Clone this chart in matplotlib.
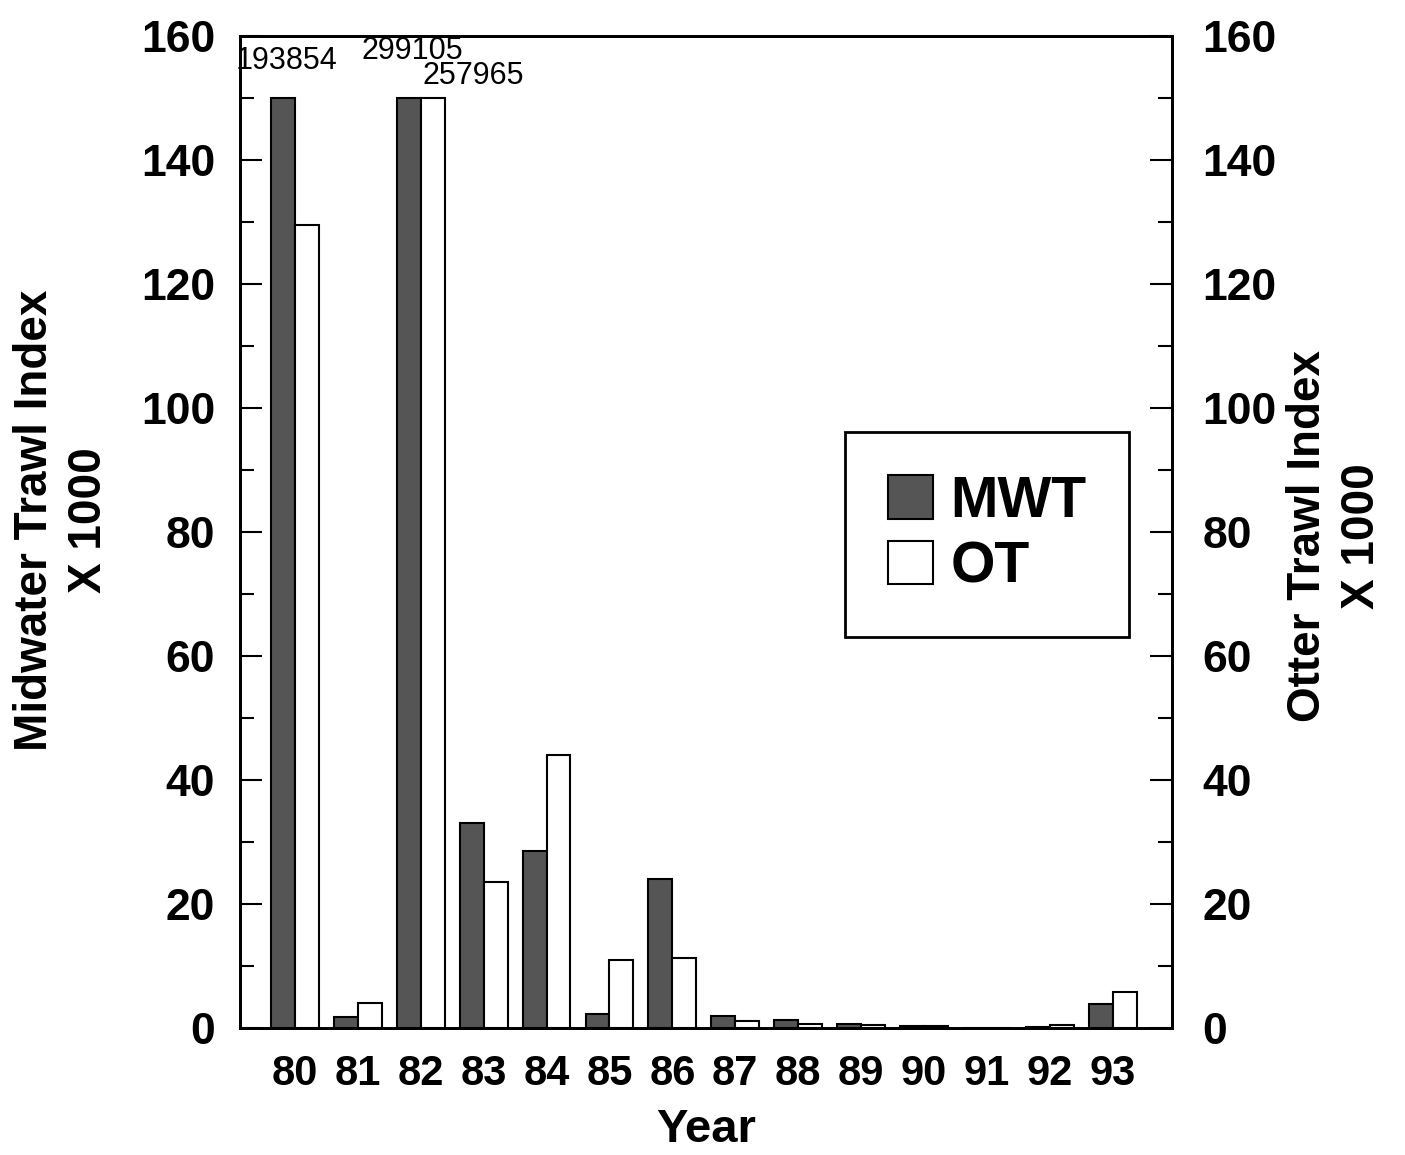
import numpy as np
import matplotlib.pyplot as plt
from matplotlib.ticker import MultipleLocator

plt.rcParams['font.family'] = ['Liberation Sans', 'DejaVu Sans']

# ---------- data ----------
years = ['80', '81', '82', '83', '84', '85', '86', '87', '88', '89', '90', '91', '92', '93']
mwt = [193.854, 1.8, 299.105, 33.0, 28.5, 2.3, 24.0, 2.0, 1.3, 0.6, 0.3, 0.05, 0.1, 3.8]
ot = [129.5, 4.0, 257.965, 23.5, 44.0, 11.0, 11.3, 1.2, 0.6, 0.4, 0.3, 0.0, 0.5, 5.8]
y_cap = 150.0

# ---------- plot ----------
fig = plt.figure(figsize=(14.05, 11.55), dpi=100)
ax = fig.add_axes([0.171, 0.110, 0.663, 0.859])

x = np.arange(len(years))
w = 0.38
mwt_shown = np.minimum(mwt, y_cap)
ot_shown = np.minimum(ot, y_cap)

b1 = ax.bar(x - w / 2, mwt_shown, w, color='#555555', edgecolor='black', lw=1.5, label='MWT')
b2 = ax.bar(x + w / 2, ot_shown, w, color='white', edgecolor='black', lw=1.5, label='OT')

# values of the bars that run off the scale
for i in range(len(years)):
    both = mwt[i] > y_cap and ot[i] > y_cap
    if mwt[i] > y_cap:
        ax.text(x[i] - w / 2 + 0.05, y_cap + (7.5 if both else 5.9), f'{mwt[i] * 1000:.0f}',
                ha='center', va='center', fontsize=22)
    if ot[i] > y_cap:
        ax.text(x[i] + 0.03, y_cap + 3.5, f'{ot[i] * 1000:.0f}',
                ha='left', va='center', fontsize=22)

ax.set_xlim(-0.87, 13.94)
ax.set_ylim(0, 160)
ax.set_xticks(x)
ax.set_xticklabels(years)
ax.tick_params(axis='x', length=0, pad=19, labelsize=30)
for t in ax.get_xticklabels():
    t.set_fontweight('bold')

ax.yaxis.set_major_locator(MultipleLocator(20))
ax.yaxis.set_minor_locator(MultipleLocator(10))
ax.tick_params(axis='y', which='major', direction='in', length=16, width=1.5,
               pad=18, labelsize=32)
ax.tick_params(axis='y', which='minor', direction='in', length=10, width=1.5)
for t in ax.get_yticklabels():
    t.set_fontweight('bold')

ax2 = ax.twinx()
ax2.set_ylim(0, 160)
ax2.yaxis.set_major_locator(MultipleLocator(20))
ax2.yaxis.set_minor_locator(MultipleLocator(10))
ax2.tick_params(axis='y', which='major', direction='in', length=16, width=1.5,
                pad=22, labelsize=32)
ax2.tick_params(axis='y', which='minor', direction='in', length=10, width=1.5)
for t in ax2.get_yticklabels():
    t.set_fontweight('bold')

for a in (ax, ax2):
    for s in a.spines.values():
        s.set_linewidth(2)

ax.set_xlabel('Year', fontsize=34, fontweight='bold', labelpad=10)
fig.text(62 / 1405, 1 - 520 / 1155, 'Midwater Trawl Index\nX 1000', rotation=90,
         ha='center', va='center', multialignment='center', fontsize=33,
         fontweight='bold', linespacing=1.3)
fig.text(1335 / 1405, 1 - 536 / 1155, 'Otter Trawl Index\nX 1000', rotation=90,
         ha='center', va='center', multialignment='center', fontsize=33,
         fontweight='bold', linespacing=1.3)

leg = ax.legend(handles=[b1, b2], loc='upper left',
                bbox_to_anchor=(845 / 1405, 1 - 432 / 1155),
                bbox_transform=fig.transFigure, prop={'weight': 'bold', 'size': 41},
                frameon=True, fancybox=False, edgecolor='black', framealpha=1,
                handlelength=0.8, handleheight=0.8, handletextpad=0.3,
                borderpad=0.75, labelspacing=0.2, borderaxespad=0)
leg.get_frame().set_linewidth(2)

fig.savefig('out.png', dpi=100)
